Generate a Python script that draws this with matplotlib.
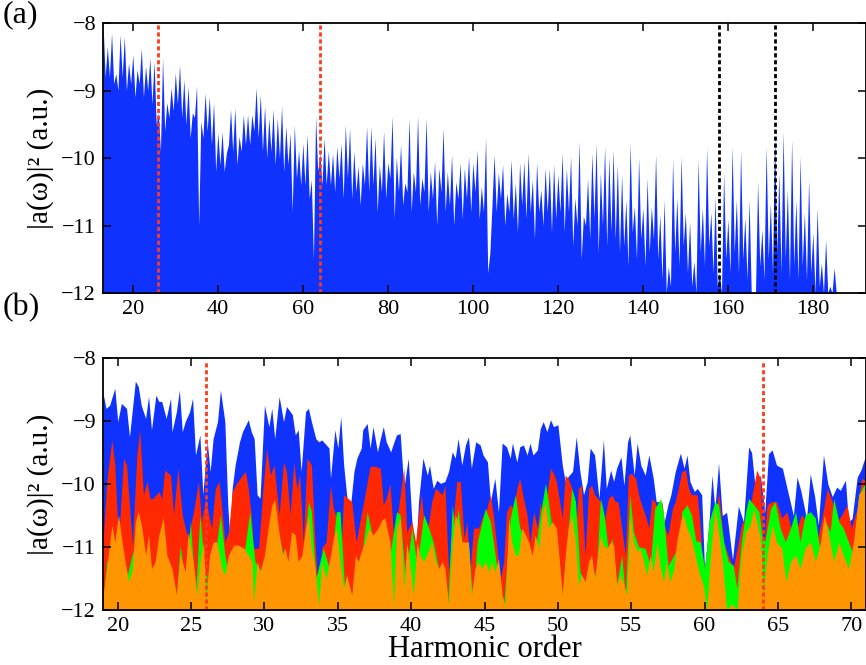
import numpy as np
import matplotlib
matplotlib.use('Agg')
import matplotlib.pyplot as plt

plt.rcParams['font.family'] = ['Liberation Serif', 'DejaVu Serif']

# ---- panel (a): full spectrum, peaks at integer orders, dips in between ----
a_start = 13
a_peaks = [-8.02, -8.35, -8.15, -8.75, -8.17, -8.20, -8.59, -8.47, -8.69, -8.37,
           -8.64, -8.52, -8.57, -9.33, -8.52, -9.18, -8.96, -8.74, -8.62, -8.84,
           -8.94, -9.33, -8.93, -9.46, -9.04, -9.09, -9.18, -9.63, -9.61, -9.93,
           -9.28, -9.26, -9.68, -9.36, -9.36, -9.36, -8.96, -9.06, -9.23, -9.41,
           -9.28, -9.41, -9.23, -9.53, -9.63, -9.51, -9.88, -9.78, -9.65, -10.32,
           -9.38, -9.93, -9.70, -9.90, -9.93, -9.83, -9.78, -9.51, -9.56, -9.90,
           -10.12, -10.07, -9.53, -9.53, -9.70, -10.10, -9.60, -10.07, -9.38, -9.98,
           -9.80, -10.37, -9.41, -10.20, -9.38, -10.30, -9.41, -10.20, -10.05, -10.15,
           -9.56, -10.20, -9.95, -10.35, -10.07, -10.15, -9.98, -10.07, -9.88, -10.42,
           -9.70, -11.41, -9.95, -10.22, -10.10, -10.52, -10.02, -10.37, -10.07, -10.05,
           -9.93, -10.32, -10.07, -10.47, -10.15, -10.15, -10.10, -10.25, -9.93, -10.15,
           -9.98, -10.59, -9.75, -10.86, -10.30, -9.93, -9.78, -10.22, -9.83, -9.98,
           -9.88, -10.10, -10.25, -10.62, -9.78, -10.72, -10.00, -10.74, -10.30, -10.72,
           -9.95, -10.84, -10.62, -11.61, -10.02, -10.59, -9.98, -10.81, -10.94, -11.53,
           -10.02, -10.74, -9.85, -10.81, -10.57, -11.70, -10.22, -10.91, -9.83, -10.62,
           -9.88, -10.89, -10.62, -12.0, -10.35, -11.06, -9.83, -10.67, -9.68, -10.22,
           -9.60, -10.47, -9.73, -10.62, -9.98, -10.81, -10.32, -11.11, -10.74, -11.56,
           -11.21, -11.90, -11.63]
a_dips = [-8.8, -8.8, -8.9, -9.0, -8.8, -9.0, -8.9, -9.1, -8.9, -9.1,
          -9.0, -9.2, -9.5, -9.9, -9.6, -9.4, -9.3, -9.2, -9.4, -9.5,
          -9.7, -9.4, -11.0, -9.7, -9.6, -9.8, -10.2, -10.1, -10.2, -9.8,
          -9.9, -10.1, -9.9, -9.8, -9.8, -9.6, -9.7, -9.9, -10.0, -9.9,
          -10.1, -10.0, -10.2, -10.1, -10.8, -10.3, -10.4, -10.4, -10.6, -11.5,
          -10.2, -10.4, -10.4, -10.4, -10.5, -10.3, -10.6, -10.3, -10.6, -10.5,
          -10.7, -10.4, -10.5, -10.4, -10.8, -10.5, -10.6, -10.3, -10.9, -10.5,
          -10.7, -10.5, -10.8, -10.5, -10.7, -10.5, -10.8, -10.6, -11.0, -10.5,
          -10.8, -10.7, -11.0, -10.6, -10.9, -10.6, -10.8, -10.5, -10.9, -10.8,
          -11.7, -10.7, -10.8, -10.6, -11.0, -10.8, -10.9, -11.1, -10.7, -10.9,
          -10.8, -11.2, -10.8, -11.0, -10.8, -11.1, -10.9, -10.8, -11.1, -10.8,
          -11.3, -11.0, -11.5, -11.0, -11.2, -10.9, -11.4, -11.0, -11.3, -11.1,
          -11.2, -11.4, -11.3, -11.6, -11.1, -11.5, -11.2, -11.6, -11.4, -11.2,
          -11.5, -11.8, -12.0, -11.9, -11.4, -11.6, -11.3, -11.7, -11.9, -12.0,
          -11.4, -11.6, -11.3, -11.7, -11.9, -12.0, -11.5, -11.7, -11.4, -11.7,
          -11.5, -11.8, -12.0, -12.0, -11.6, -11.8, -11.5, -11.7, -11.4, -11.7,
          -11.5, -11.8, -11.6, -11.8, -11.6, -11.8, -11.7, -12.0, -11.9, -12.0,
          -12.0, -12.0, -12.0]
a_red_lines = [26, 64]
a_black_lines = [158, 171]

# ---- panel (b): zoom 19-71, four components ----
blue_h = [19.0, 19.2, 19.45, 19.8, 20.0, 20.25, 20.6, 20.8, 21.2, 21.4, 21.6, 21.9, 22.1, 22.3, 22.6,
          22.8, 23.0, 23.3, 23.6, 23.7, 24.0, 24.2, 24.4, 24.6, 24.9, 25.1, 25.3, 25.6, 25.8, 26.1,
          26.3, 26.5, 26.8, 27.0, 27.3, 27.5, 27.65, 27.8, 28.0, 28.3, 28.5, 28.9, 29.1, 29.3, 29.5,
          29.7, 30.0, 30.3, 30.5, 30.7, 31.0, 31.3, 31.5, 31.9, 32.1, 32.3, 32.5, 32.8, 33.0, 33.2,
          33.5, 33.7, 33.9, 34.1, 34.4, 34.5, 34.8, 35.0, 35.2, 35.4, 35.6, 35.8, 36.1, 36.3, 36.6,
          36.7, 37.0, 37.2, 37.4, 37.7, 37.9, 38.1, 38.3, 38.6, 38.8, 39.0, 39.25, 39.5, 39.8, 40.05,
          40.3, 40.5, 40.8, 41.1, 41.25, 41.5, 41.75, 42.0, 42.3, 42.55, 42.8, 43.0, 43.2, 43.45, 43.7,
          43.9, 44.1, 44.4, 44.7, 44.9, 45.2, 45.4, 45.7, 45.95, 46.2, 46.5, 46.75, 46.9, 47.2, 47.4,
          47.65, 47.9, 48.1, 48.3, 48.6, 48.8, 49.0, 49.25, 49.5, 49.7, 50.0, 50.3, 50.5, 50.7, 51.0,
          51.25, 51.5, 51.75, 52.0, 52.2, 52.5, 52.8, 53.1, 53.3, 53.6, 53.8, 54.0, 54.3, 54.5, 54.75,
          54.9, 55.2, 55.4, 55.65, 55.95, 56.2, 56.5, 56.7, 57.0, 57.2, 57.5, 57.7, 58.0, 58.35, 58.6,
          58.8, 59.0, 59.3, 59.5, 59.8, 60.0, 60.3, 60.5, 60.7, 60.95, 61.2, 61.5, 61.9, 62.3, 62.65,
          63.0, 63.2, 63.45, 63.8, 64.1, 64.35, 64.6, 64.9, 65.3, 65.6, 66.05, 66.3, 66.55, 66.95, 67.2,
          67.5, 67.75, 68.1, 68.4, 68.7, 69.0, 69.25, 69.6, 69.8, 70.05, 70.4, 70.65, 70.9, 71.0]
blue_v = [-8.56, -8.80, -8.75, -8.48, -9.01, -8.72, -8.80, -9.25, -8.37, -8.45, -8.75, -8.96, -8.61, -9.14, -8.59,
          -8.69, -8.69, -8.96, -8.64, -9.17, -8.85, -8.51, -9.17, -9.01, -8.85, -8.64, -9.54, -9.22, -10.17, -9.33,
          -9.80, -9.28, -9.01, -8.51, -9.01, -10.33, -10.92, -10.07, -9.70, -9.33, -9.17, -8.98, -9.17, -9.28, -10.17,
          -10.23, -8.75, -9.09, -8.80, -9.28, -8.61, -9.01, -8.77, -8.90, -9.22, -9.14, -9.80, -8.85, -8.80, -9.01,
          -9.28, -9.33, -9.30, -9.35, -9.43, -9.91, -9.14, -9.43, -8.93, -9.70, -10.17, -10.50, -9.80, -9.59, -9.43,
          -9.14, -9.04, -9.43, -9.09, -9.49, -9.28, -9.09, -9.33, -9.49, -9.35, -9.22, -9.20, -10.07, -9.59, -10.60,
          -11.18, -10.28, -9.59, -9.86, -9.70, -10.07, -9.94, -9.99, -9.96, -9.80, -9.49, -9.59, -9.28, -9.70, -9.38,
          -9.25, -9.75, -9.33, -9.38, -9.54, -9.65, -10.28, -9.91, -10.44, -9.35, -9.41, -9.59, -9.35, -9.65, -9.41,
          -9.38, -9.54, -9.35, -9.54, -9.46, -9.12, -9.01, -9.17, -8.98, -9.09, -9.06, -9.70, -9.96, -9.88, -9.80,
          -9.25, -9.80, -10.17, -9.96, -9.43, -9.54, -10.23, -9.30, -10.07, -9.78, -9.96, -9.75, -9.57, -10.02, -9.33,
          -9.22, -9.86, -9.35, -9.70, -9.86, -9.54, -9.91, -10.28, -10.28, -10.65, -10.33, -10.17, -9.80, -9.51, -9.75,
          -9.54, -9.96, -10.12, -10.07, -10.17, -11.40, -10.60, -9.86, -10.40, -9.67, -10.50, -10.45, -11.20, -10.35, -10.60,
          -9.41, -9.50, -10.07, -9.86, -10.45, -9.52, -9.46, -9.70, -9.75, -10.05, -10.50, -9.89, -10.10, -10.55, -9.84,
          -10.20, -10.65, -9.54, -10.00, -10.20, -10.05, -10.10, -9.94, -10.60, -10.55, -9.89, -9.78, -9.60, -9.60]

red_h = [19.0, 19.25, 19.6, 19.8, 20.05, 20.4, 20.6, 21.0, 21.3, 21.5, 21.75, 22.0, 22.2, 22.4, 22.8,
         23.0, 23.2, 23.6, 23.8, 24.1, 24.4, 24.6, 24.8, 25.2, 25.5, 25.7, 26.0, 26.2, 26.4, 26.65,
         26.9, 27.1, 27.3, 27.55, 27.8, 28.1, 28.5, 28.7, 28.9, 29.1, 29.25, 29.6, 29.9, 30.15, 30.4,
         30.65, 31.0, 31.3, 31.5, 31.75, 32.0, 32.2, 32.4, 32.65, 32.9, 33.2, 33.45, 33.7, 33.9, 34.2,
         34.5, 34.7, 35.0, 35.2, 35.4, 35.7, 35.95, 36.25, 36.5, 36.85, 37.2, 37.55, 37.9, 38.1, 38.3,
         38.55, 38.8, 39.1, 39.5, 39.7, 40.05, 40.3, 40.5, 40.7, 40.95, 41.2, 41.4, 41.65, 41.9, 42.1,
         42.3, 42.55, 42.8, 43.1, 43.35, 43.6, 43.8, 44.0, 44.25, 44.6, 44.9, 45.15, 45.4, 45.6, 45.85,
         46.05, 46.3, 46.5, 46.75, 47.0, 47.2, 47.4, 47.65, 47.9, 48.1, 48.35, 48.6, 48.8, 49.0, 49.25,
         49.5, 49.7, 49.9, 50.3, 50.5, 50.7, 50.95, 51.2, 51.4, 51.6, 51.85, 52.1, 52.3, 52.5, 52.9,
         53.15, 53.45, 53.7, 53.9, 54.1, 54.35, 54.6, 54.8, 55.0, 55.3, 55.5, 55.7, 55.95, 56.2, 56.4,
         56.6, 56.85, 57.1, 57.3, 57.5, 57.8, 58.0, 58.2, 58.45, 58.7, 58.9, 59.1, 59.5, 59.7, 59.9,
         60.3, 60.6, 60.95, 61.3, 61.6, 61.95, 62.3, 62.5, 62.9, 63.2, 63.55, 63.8, 64.0, 64.25, 64.6,
         64.9, 65.25, 65.6, 65.95, 66.3, 66.6, 66.95, 67.3, 67.65, 68.0, 68.35, 68.7, 69.0, 69.35, 69.7,
         70.0, 70.4, 70.7, 71.0]
red_v = [-10.92, -9.96, -9.30, -9.70, -10.92, -9.59, -9.70, -10.97, -9.54, -9.14, -10.17, -9.96, -10.23, -10.23, -10.12,
         -10.23, -9.78, -9.86, -10.49, -9.75, -10.49, -10.70, -10.86, -10.39, -9.96, -10.60, -10.23, -10.49, -10.70, -10.07,
         -9.96, -10.39, -10.92, -10.76, -10.12, -9.99, -9.86, -9.80, -10.07, -10.50, -11.02, -11.02, -10.07, -9.43, -9.86,
         -9.70, -10.49, -9.65, -9.80, -10.49, -9.65, -10.07, -9.86, -10.92, -9.59, -9.70, -10.92, -11.92, -11.02, -10.92,
         -10.02, -10.39, -10.60, -11.13, -10.17, -10.23, -10.28, -10.92, -10.60, -10.17, -9.72, -9.72, -9.75, -10.33, -10.23,
         -9.99, -10.81, -10.44, -9.75, -10.76, -10.60, -10.92, -10.49, -10.17, -10.81, -10.60, -10.28, -10.07, -10.12, -10.17,
         -10.02, -11.39, -10.76, -9.96, -9.96, -10.86, -10.60, -11.39, -10.70, -10.70, -10.49, -10.39, -10.17, -10.49, -11.02,
         -11.55, -11.23, -10.44, -10.33, -10.39, -10.07, -9.91, -10.23, -10.49, -10.92, -10.44, -10.70, -10.28, -10.60, -10.17,
         -9.75, -9.83, -9.96, -10.54, -9.86, -9.91, -10.07, -10.81, -10.07, -10.02, -11.13, -10.07, -10.02, -10.17, -10.28,
         -10.60, -10.23, -10.17, -10.28, -10.28, -10.70, -11.13, -9.86, -9.83, -9.91, -10.17, -10.33, -10.49, -10.70, -10.23,
         -10.28, -10.44, -10.28, -10.70, -10.81, -10.39, -10.28, -10.07, -9.80, -9.78, -10.07, -10.17, -10.17, -10.70, -11.50,
         -10.70, -10.86, -10.12, -10.92, -11.13, -11.34, -10.92, -10.65, -10.49, -10.23, -9.78, -9.91, -11.13, -10.33, -10.28,
         -10.28, -10.54, -10.44, -10.76, -10.70, -10.49, -10.60, -10.60, -10.92, -10.54, -10.07, -10.28, -10.60, -10.49, -10.33,
         -10.70, -10.39, -9.91, -9.96]

green_h = [19.0, 19.25, 19.5, 20.0, 20.5, 21.0, 21.5, 22.0, 22.5, 23.0, 23.5, 24.0, 24.25, 24.6, 24.95,
           25.3, 25.6, 25.9, 26.2, 26.6, 27.0, 27.3, 27.6, 28.0, 28.5, 29.0, 29.35, 29.6, 30.0, 30.5,
           31.0, 31.5, 32.0, 32.5, 33.0, 33.2, 33.5, 34.0, 34.5, 34.9, 35.15, 35.5, 36.0, 36.5, 37.0,
           37.5, 38.0, 38.5, 39.0, 39.25, 39.6, 40.05, 40.4, 40.85, 41.05, 41.5, 42.0, 42.5, 42.8, 43.0,
           43.2, 43.5, 43.9, 44.2, 44.5, 45.05, 45.4, 45.6, 46.0, 46.3, 46.75, 47.1, 47.4, 47.9, 48.3,
           48.8, 49.15, 49.35, 49.7, 50.0, 50.3, 50.6, 50.95, 51.2, 51.5, 51.9, 52.3, 52.6, 52.9, 53.15,
           53.45, 53.7, 54.0, 54.35, 54.6, 54.9, 55.15, 55.5, 55.95, 56.3, 56.6, 57.0, 57.2, 57.5, 57.9,
           58.2, 58.45, 58.8, 59.1, 59.4, 59.7, 60.0, 60.3, 60.7, 60.95, 61.3, 61.6, 61.95, 62.2, 62.5,
           62.8, 63.0, 63.35, 63.7, 63.9, 64.1, 64.5, 64.8, 65.15, 65.5, 65.85, 66.2, 66.5, 66.85, 67.2,
           67.55, 67.9, 68.25, 68.55, 68.8, 69.15, 69.45, 69.8, 70.15, 70.5, 70.85, 71.0]
green_v = [-11.9, -11.23, -11.2, -10.9, -11.6, -11.10, -10.9, -11.5, -11.6, -11.0, -11.5, -11.8, -10.97, -11.6, -10.60,
           -11.8, -10.49, -11.3, -11.6, -11.2, -10.49, -11.13, -11.5, -11.3, -11.3, -10.44, -11.23, -11.34, -11.4, -10.8,
           -10.81, -11.4, -11.3, -11.5, -10.28, -10.44, -11.5, -11.02, -11.4, -10.44, -10.44, -11.8, -11.9, -11.4, -10.44,
           -11.0, -11.0, -11.2, -10.44, -10.49, -11.5, -10.70, -11.3, -10.49, -10.60, -10.92, -11.5, -11.9, -10.33, -10.8,
           -10.39, -11.0, -10.92, -11.9, -10.92, -10.39, -10.60, -10.92, -11.6, -11.95, -10.54, -10.17, -10.70, -10.92, -11.3,
           -10.49, -9.99, -10.28, -10.9, -11.0, -11.8, -11.0, -10.07, -10.28, -11.39, -11.6, -11.3, -11.5, -10.23, -10.49,
           -11.1, -10.86, -11.6, -11.13, -11.8, -10.17, -10.76, -11.0, -11.02, -11.3, -10.39, -10.23, -10.49, -11.3, -11.13,
           -11.0, -10.44, -10.33, -10.49, -10.9, -10.92, -11.34, -10.60, -10.28, -10.33, -10.92, -11.23, -11.29, -11.66, -10.92,
           -10.44, -10.23, -10.33, -10.44, -10.81, -10.92, -10.39, -10.28, -10.70, -10.92, -10.70, -10.44, -10.92, -10.49, -10.44,
           -10.54, -11.13, -10.60, -10.76, -10.23, -10.60, -10.70, -10.92, -11.13, -10.17, -10.02, -10.02]

orange_h = [19.0, 19.25, 19.6, 19.8, 20.05, 20.3, 20.5, 20.75, 21.0, 21.2, 21.4, 21.65, 21.9, 22.1, 22.3,
            22.55, 22.8, 23.1, 23.35, 23.7, 24.0, 24.25, 24.6, 24.8, 25.2, 25.4, 25.6, 25.85, 26.0, 26.25,
            26.5, 26.75, 27.1, 27.3, 27.55, 27.9, 28.2, 28.6, 28.9, 29.15, 29.25, 29.5, 29.7, 30.0, 30.25,
            30.5, 30.7, 30.95, 31.2, 31.4, 31.6, 31.85, 32.1, 32.3, 32.55, 32.8, 33.0, 33.2, 33.45, 33.7,
            33.9, 34.2, 34.5, 34.7, 34.9, 35.15, 35.4, 35.6, 35.95, 36.2, 36.4, 36.6, 36.85, 37.1, 37.4,
            37.75, 38.0, 38.2, 38.55, 38.8, 39.0, 39.25, 39.5, 39.7, 39.95, 40.15, 40.4, 40.6, 40.85, 41.05,
            41.4, 41.65, 41.9, 42.1, 42.3, 42.55, 42.8, 43.0, 43.2, 43.45, 43.7, 43.9, 44.1, 44.35, 44.6,
            44.8, 45.05, 45.3, 45.5, 45.7, 45.95, 46.2, 46.4, 46.65, 46.85, 47.1, 47.3, 47.55, 47.8, 48.0,
            48.25, 48.45, 48.7, 48.9, 49.15, 49.35, 49.6, 49.9, 50.3, 50.5, 50.7, 50.95, 51.2, 51.4, 51.6,
            51.85, 52.1, 52.3, 52.5, 52.9, 53.1, 53.35, 53.6, 53.8, 54.0, 54.25, 54.5, 54.7, 54.9, 55.15,
            55.4, 55.6, 55.85, 56.05, 56.3, 56.5, 56.75, 57.0, 57.2, 57.4, 57.65, 57.9, 58.1, 58.35, 58.55,
            58.8, 59.0, 59.25, 59.6, 59.9, 60.15, 60.4, 60.7, 60.95, 61.2, 61.5, 61.85, 62.2, 62.5, 62.8,
            63.1, 63.35, 63.55, 63.8, 64.0, 64.25, 64.6, 64.9, 65.25, 65.55, 65.85, 66.2, 66.5, 66.85, 67.2,
            67.55, 67.9, 68.15, 68.45, 68.8, 69.15, 69.45, 69.8, 70.15, 70.5, 70.85, 71.0]
orange_v = [-11.76, -11.34, -10.65, -10.92, -10.49, -10.92, -11.23, -11.55, -11.34, -10.60, -10.44, -10.70, -11.13, -10.81, -11.34,
            -11.23, -10.81, -10.54, -11.13, -11.34, -11.76, -11.13, -11.39, -10.76, -11.34, -11.76, -11.23, -10.92, -11.87, -11.13,
            -10.92, -10.92, -11.34, -11.44, -11.13, -10.97, -10.97, -11.02, -11.13, -11.23, -11.87, -11.23, -11.39, -11.13, -10.70,
            -10.33, -10.25, -10.70, -11.13, -11.02, -11.23, -10.76, -10.81, -11.23, -11.13, -10.70, -10.49, -11.02, -11.34, -11.92,
            -11.23, -11.50, -11.13, -10.86, -10.70, -11.23, -11.66, -11.44, -11.76, -11.13, -11.23, -11.07, -10.92, -10.70, -10.81,
            -10.70, -10.57, -10.54, -10.92, -11.92, -10.70, -10.54, -11.66, -10.92, -11.34, -11.76, -10.92, -11.13, -11.23, -11.13,
            -10.92, -11.23, -11.34, -11.23, -11.34, -11.92, -10.92, -10.49, -10.60, -10.92, -10.92, -10.92, -11.76, -11.34, -11.23,
            -11.34, -11.23, -11.39, -11.23, -11.39, -11.18, -11.76, -11.92, -10.54, -10.92, -11.13, -11.13, -10.70, -10.81, -10.92,
            -11.13, -10.81, -11.02, -10.49, -10.28, -10.70, -10.60, -10.70, -11.76, -11.13, -10.70, -10.49, -10.92, -11.60, -11.44,
            -11.55, -11.23, -11.13, -11.50, -10.81, -10.97, -11.02, -10.92, -10.97, -11.60, -11.44, -11.60, -11.76, -10.49, -10.92,
            -11.07, -11.02, -11.23, -11.44, -11.13, -11.39, -10.92, -11.34, -11.55, -11.23, -11.55, -11.34, -10.92, -10.60, -10.49,
            -10.70, -10.81, -11.02, -11.39, -11.60, -12.0, -11.13, -10.39, -10.76, -11.23, -12.0, -11.9, -12.0, -11.13, -10.76,
            -10.65, -10.39, -10.60, -10.86, -11.76, -11.13, -10.65, -10.92, -11.02, -11.55, -11.23, -11.13, -11.34, -11.02, -10.92,
            -11.23, -10.92, -10.49, -10.81, -11.23, -10.92, -11.13, -11.34, -10.92, -10.17, -10.07, -10.07]
b_red_lines = [26, 64]

c_blue = '#0f32ff'
c_red = '#ff2800'
c_green = '#00ff00'
c_orange = '#ff9500'
c_dot = '#ff3a1a'

# combine peaks and dips of panel (a) into one ordered trace
a_h = np.concatenate([a_start + np.arange(len(a_peaks)), a_start + 0.5 + np.arange(len(a_dips))])
a_v = np.concatenate([a_peaks, a_dips])
order = np.argsort(a_h)
a_h = a_h[order]
a_v = a_v[order]

fig = plt.figure(figsize=(8.66, 6.65), dpi=100)
ax1 = fig.add_axes([0.119, 0.5594, 0.881, 0.4060])
ax2 = fig.add_axes([0.119, 0.0827, 0.881, 0.3790])

ax1.fill_between(a_h, a_v, -13, color=c_blue, linewidth=0)
for x in a_red_lines:
    ax1.axvline(x, color=c_dot, linestyle=(0, (1.5, 1.0)), linewidth=2.0, zorder=5)
for x in a_black_lines:
    ax1.axvline(x, color='black', linestyle=(0, (1.5, 1.0)), linewidth=2.0, zorder=5)
ax1.set_xlim(13, 192.5)
ax1.set_ylim(-12, -8)
ax1.set_xticks(np.arange(20, 181, 20))

ax2.fill_between(blue_h, blue_v, -13, color=c_blue, linewidth=0)
ax2.fill_between(red_h, red_v, -13, color=c_red, linewidth=0)
ax2.fill_between(green_h, green_v, -13, color=c_green, linewidth=0)
ax2.fill_between(orange_h, orange_v, -13, color=c_orange, linewidth=0)
for x in b_red_lines:
    ax2.axvline(x, ymax=0.985, color=c_dot, linestyle=(0, (1.5, 1.0)), linewidth=2.0, zorder=5)
ax2.set_xlim(19, 71)
ax2.set_ylim(-12, -8)
ax2.set_xticks(np.arange(20, 71, 5))
ax2.set_xlabel('Harmonic order', fontsize=22, labelpad=-1)

for ax in [ax1, ax2]:
    ax.set_yticks([-12, -11, -10, -9, -8])
    ax.set_ylabel('|a(ω)|² (a.u.)', fontsize=21, labelpad=5)
    ax.tick_params(direction='in', top=True, right=True, length=6, width=1.1, labelsize=16, pad=5)
    for s in ax.spines.values():
        s.set_linewidth(1.3)
        s.set_zorder(6)

fig.text(0.003, 0.999, '(a)', fontsize=23, va='top', ha='left')
fig.text(0.003, 0.560, '(b)', fontsize=23, va='top', ha='left')

fig.savefig('out.png', dpi=100)
